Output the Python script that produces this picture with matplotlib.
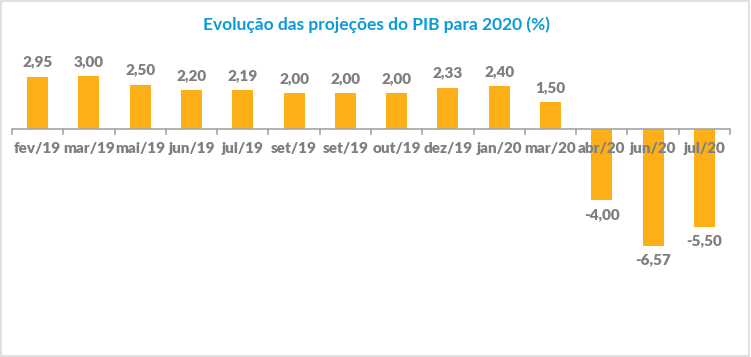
import matplotlib
matplotlib.use("Agg")
import matplotlib.pyplot as plt
from matplotlib.patches import Rectangle

categories = ["fev/19", "mar/19", "mai/19", "jun/19", "jul/19", "set/19", "set/19",
              "out/19", "dez/19", "jan/20", "mar/20", "abr/20", "jun/20", "jul/20"]
values = [2.95, 3.00, 2.50, 2.20, 2.19, 2.00, 2.00, 2.00, 2.33, 2.40, 1.50, -4.00, -6.57, -5.50]
title = "Evolução das projeções do PIB para 2020 (%)"

bar_color = "#FCAF17"
gray = "#7F7F7F"
font = "Lato"

fig = plt.figure(figsize=(7.51, 3.57), dpi=100)
fig.patches.append(Rectangle((0.001, 0.004), 0.996, 0.994, transform=fig.transFigure,
                             fill=False, edgecolor="#D9D9D9", linewidth=1.2))
ax = fig.add_axes([12/751, (357-290)/357, 718/751, 240/357])
n = len(categories)
x = list(range(n))
ax.bar(x, values, width=0.41, color=bar_color, zorder=2)
ax.set_xlim(-0.5, n-0.5)
ax.set_ylim(-9.07, 4.45)
for s in ax.spines.values():
    s.set_visible(False)
ax.axhline(0, color="#A6A6A6", linewidth=1.2, zorder=3)
for b in range(n+1):
    ax.plot([b-0.5, b-0.5], [0, -0.3], color="#A6A6A6", linewidth=1.2, clip_on=False, zorder=3)
ax.set_xticks([])
ax.set_yticks([])
for xi, c in zip(x, categories):
    ax.text(xi, -1.1, c, ha="center", va="center", fontsize=11, fontweight="heavy",
            color=gray, family=font)
for xi, v in zip(x, values):
    lbl = f"{v:.2f}".replace(".", ",")
    if v >= 0:
        ax.text(xi, v + 0.45, lbl, ha="center", va="bottom", fontsize=11,
                fontweight="heavy", color=gray, family=font)
    else:
        ax.text(xi, v - 0.45, lbl, ha="center", va="top", fontsize=11,
                fontweight="heavy", color=gray, family=font)
fig.text(376/751, 1 - 25/357, title, ha="center", va="center", fontsize=12.5,
         fontweight="bold", color="#0A9AD8", family=font)
fig.savefig("out.png", dpi=100)
